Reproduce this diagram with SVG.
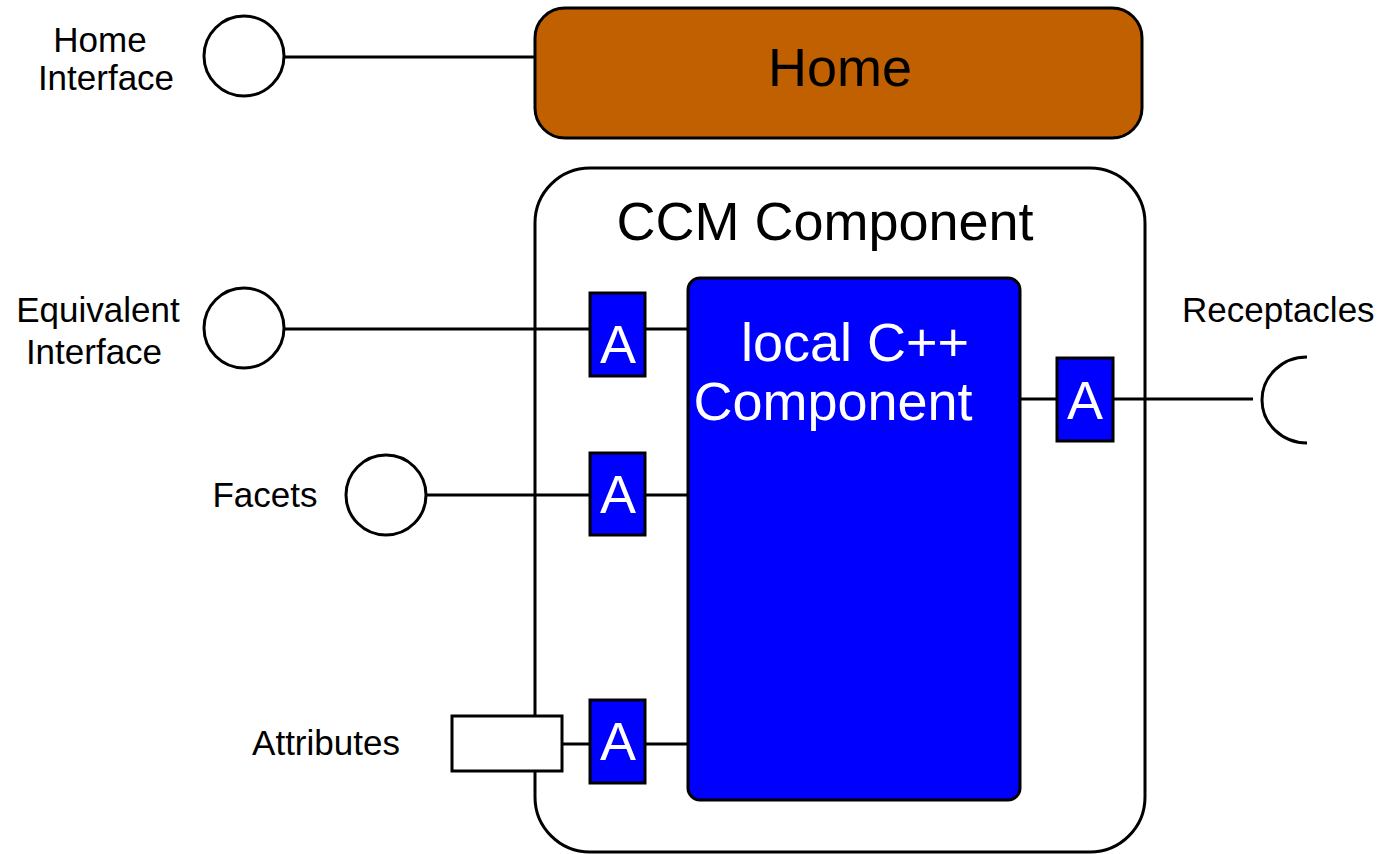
<svg xmlns="http://www.w3.org/2000/svg" width="1385" height="854" viewBox="0 0 1385 854">
<style>
.lbl{font-family:"Liberation Sans",Arial,sans-serif;font-size:35px;fill:#000;text-anchor:middle}
.big{font-family:"Liberation Sans",Arial,sans-serif;font-size:54px;text-anchor:middle}
.iface{fill:#fff;stroke:#000;stroke-width:3}
.adapter{fill:#0000FF;stroke:#000;stroke-width:3}
.atext{font-family:"Liberation Sans",Arial,sans-serif;font-size:54px;fill:#fff;text-anchor:middle}
.conn{stroke:#000;stroke-width:3;fill:none}
</style>
<rect width="1385" height="854" fill="#fff"/>
<g id="ccm-component">
<rect x="535" y="168" width="610" height="684" rx="55" fill="#fff" stroke="#000" stroke-width="3"/>
<text class="big" x="825" y="240" fill="#000">CCM Component</text>
</g>
<g id="connectors">
<line class="conn" x1="285" y1="57" x2="535" y2="57"/>
<line class="conn" x1="285" y1="329" x2="590" y2="329"/>
<line class="conn" x1="645" y1="329" x2="688" y2="329"/>
<line class="conn" x1="427" y1="495" x2="590" y2="495"/>
<line class="conn" x1="645" y1="495" x2="688" y2="495"/>
<line class="conn" x1="562" y1="744" x2="590" y2="744"/>
<line class="conn" x1="645" y1="744" x2="688" y2="744"/>
<line class="conn" x1="1020" y1="399" x2="1057" y2="399"/>
<line class="conn" x1="1113" y1="399" x2="1253" y2="399"/>
</g>
<g id="home">
<rect x="535" y="8" width="607" height="130" rx="30" fill="#C06000" stroke="#000" stroke-width="3"/>
<text class="big" x="840" y="86" fill="#000">Home</text>
</g>
<g id="home-interface">
<ellipse class="iface" cx="244" cy="56" rx="40" ry="40"/>
<text class="lbl" x="100" y="52">Home</text>
<text class="lbl" x="106" y="90">Interface</text>
</g>
<g id="local-cpp-component">
<rect x="688" y="278" width="332" height="522" rx="12" fill="#0000FF" stroke="#000" stroke-width="3"/>
<text class="big" x="855" y="361" fill="#fff">local C++</text>
<text class="big" x="833" y="420" fill="#fff">Component</text>
</g>
<g id="equivalent-interface">
<ellipse class="iface" cx="244" cy="328" rx="40" ry="40"/>
<text class="lbl" x="98" y="322">Equivalent</text>
<text class="lbl" x="94" y="364">Interface</text>
</g>
<g id="facets">
<ellipse class="iface" cx="386" cy="495" rx="40" ry="40"/>
<text class="lbl" x="265" y="507">Facets</text>
</g>
<g id="attributes">
<rect class="iface" x="452" y="716" width="110" height="55"/>
<text class="lbl" x="326" y="755">Attributes</text>
</g>
<g id="adapter-equivalent">
<rect class="adapter" x="590" y="293" width="55" height="83"/>
<text class="atext" x="618" y="363">A</text>
</g>
<g id="adapter-facets">
<rect class="adapter" x="590" y="453" width="55" height="82"/>
<text class="atext" x="618" y="513">A</text>
</g>
<g id="adapter-attributes">
<rect class="adapter" x="590" y="700" width="55" height="83"/>
<text class="atext" x="618" y="760">A</text>
</g>
<g id="adapter-receptacles">
<rect class="adapter" x="1057" y="358" width="56" height="83"/>
<text class="atext" x="1085" y="419">A</text>
</g>
<g id="receptacles">
<path class="conn" d="M1307,357 A45,43 0 0 0 1307,443"/>
<text x="1182" y="322" style="font-family:'Liberation Sans',Arial,sans-serif;font-size:35px">Receptacles</text>
</g>
</svg>
